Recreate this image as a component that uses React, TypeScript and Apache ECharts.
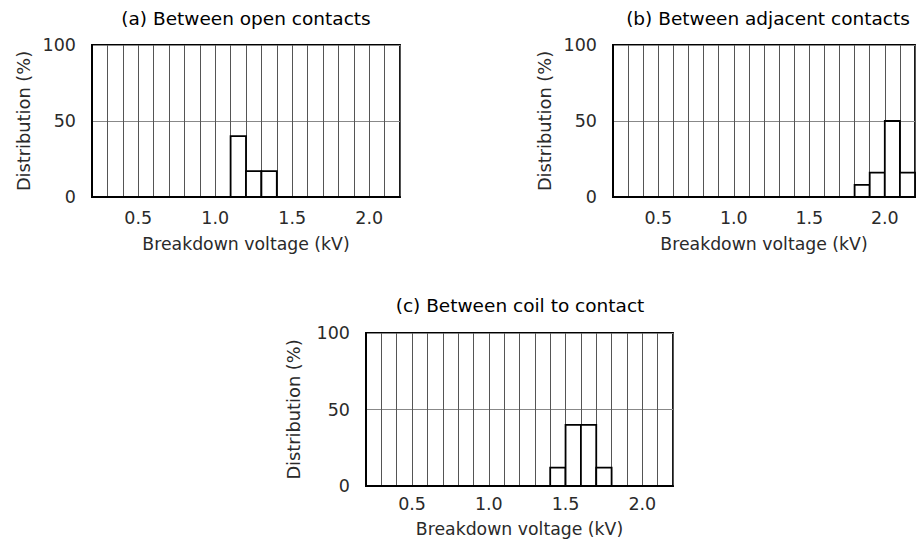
import React, { useEffect, useRef } from "react";
import * as echarts from "echarts";

// ---- data ----
const BIN_WIDTH = 0.1;
const X_MIN = 0.2;
const X_MAX = 2.2;
const X_TICK_LABELS = ["0.5", "1.0", "1.5", "2.0"];
const Y_MIN = 0;
const Y_MAX = 100;
const Y_INTERVAL = 50;

const titles = [
  "(a) Between open contacts",
  "(b) Between adjacent contacts",
  "(c) Between coil to contact",
];

const binStartA = [1.1, 1.2, 1.3];
const valuesA = [40, 17, 17];

const binStartB = [1.8, 1.9, 2.0, 2.1];
const valuesB = [8, 16, 50, 16];

const binStartC = [1.4, 1.5, 1.6, 1.7];
const valuesC = [12, 40, 40, 12];

const X_NAME = "Breakdown voltage (kV)";
const Y_NAME = "Distribution (%)";

// ---- layout ----
const FONT = "DejaVu Sans";
const grids = [
  { left: 92, top: 45, width: 308, height: 152 },
  { left: 613, top: 45, width: 308, height: 152 },
  { left: 366, top: 333, width: 307, height: 153 },
];
const titlePos = [
  { x: 246, y: 18 },
  { x: 768, y: 18 },
  { x: 520, y: 305 },
];
const xLabelMargin = [12, 12, 9];
const xNameGap = [38, 38, 34];
const yNameGap = [60, 60, 64];

const panels = [
  { bins: binStartA, values: valuesA },
  { bins: binStartB, values: valuesB },
  { bins: binStartC, values: valuesC },
];

function renderBar(params: any, api: any) {
  const x0 = api.value(0);
  const x1 = api.value(1);
  const v = api.value(2);
  const pTop = api.coord([x0, v]);
  const pBot = api.coord([x1, 0]);
  return {
    type: "rect",
    shape: {
      x: pTop[0],
      y: pTop[1],
      width: pBot[0] - pTop[0],
      height: pBot[1] - pTop[1],
    },
    style: { fill: "#fff", stroke: "#000", lineWidth: 1.8 },
  };
}

export default function App() {
  const ref = useRef<HTMLDivElement>(null);

  useEffect(() => {
    if (!ref.current) return;
    const chart = echarts.init(ref.current, undefined, { renderer: "svg" });

    const option: any = {
      animation: false,
      backgroundColor: "#fff",
      grid: grids.map((g) => ({
        ...g,
        show: true,
        borderColor: "#000",
        borderWidth: 1.8,
        backgroundColor: "transparent",
        containLabel: false,
      })),
      xAxis: grids.map((_, i) => ({
        type: "value",
        gridIndex: i,
        min: X_MIN,
        max: X_MAX,
        interval: BIN_WIDTH,
        axisLine: { show: true, lineStyle: { color: "#000", width: 2 } },
        axisTick: { show: false },
        splitLine: { show: true, lineStyle: { color: "#555", width: 1 } },
        axisLabel: {
          margin: xLabelMargin[i],
          fontSize: 17.5,
          fontFamily: FONT,
          color: "#2a2a2a",
          showMinLabel: true,
          showMaxLabel: true,
          formatter: (v: number) => {
            const s = v.toFixed(1);
            return X_TICK_LABELS.includes(s) ? s : "";
          },
        },
        name: X_NAME,
        nameLocation: "middle",
        nameGap: xNameGap[i],
        nameTextStyle: { fontSize: 17.3, fontFamily: FONT, color: "#2a2a2a" },
      })),
      yAxis: grids.map((_, i) => ({
        type: "value",
        gridIndex: i,
        min: Y_MIN,
        max: Y_MAX,
        interval: Y_INTERVAL,
        axisLine: { show: true, lineStyle: { color: "#000", width: 2 } },
        axisTick: { show: false },
        splitLine: { show: true, lineStyle: { color: "#888", width: 1 } },
        axisLabel: {
          margin: 16,
          fontSize: 17.5,
          fontFamily: FONT,
          color: "#2a2a2a",
        },
        name: Y_NAME,
        nameLocation: "middle",
        nameGap: yNameGap[i],
        nameTextStyle: { fontSize: 17.8, fontFamily: FONT, color: "#2a2a2a" },
      })),
      series: panels.map((p, i) => ({
        type: "custom",
        xAxisIndex: i,
        yAxisIndex: i,
        renderItem: renderBar,
        encode: { x: [0, 1], y: 2 },
        data: p.bins.map((b, j) => [b, b + BIN_WIDTH, p.values[j]]),
        z: 5,
      })),
      graphic: titles.map((t, i) => ({
        type: "text",
        x: titlePos[i].x,
        y: titlePos[i].y,
        style: {
          text: t,
          fontSize: 18.5,
          fontFamily: FONT,
          fill: "#000",
          textAlign: "center",
          textVerticalAlign: "middle",
        },
      })),
    };

    chart.setOption(option);
    return () => chart.dispose();
  }, []);

  return (
    <div
      ref={ref}
      style={{ position: "fixed", left: 0, top: 0, width: 918, height: 550 }}
    />
  );
}
